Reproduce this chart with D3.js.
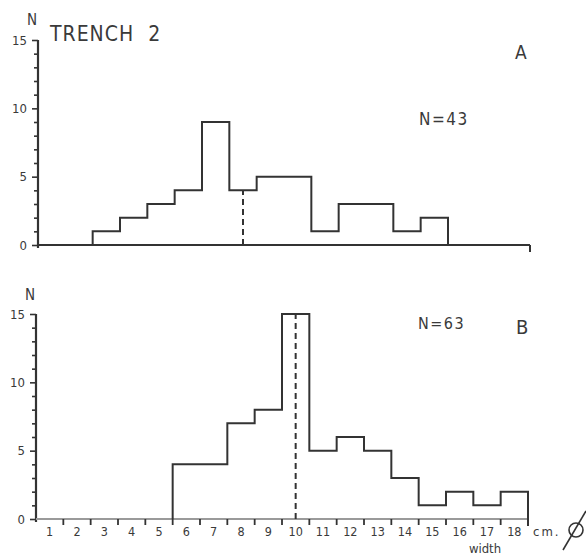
<!DOCTYPE html>
<html>
<head>
<meta charset="utf-8">
<script src="https://cdn.jsdelivr.net/npm/d3@7"></script>
<style>
  body { margin: 0; background: #fff; }
  text { font-family: "DejaVu Sans Condensed", "Liberation Sans Narrow", sans-serif; fill: #3a3a3a; }
</style>
</head>
<body>
<div id="chart"></div>
<script>
// width classes in cm (1..18)
var bins = d3.range(1, 19);
// counts per class
var countsA = [0, 0, 1, 2, 3, 4, 9, 4, 5, 5, 1, 3, 3, 1, 2, 0, 0, 0];
var countsB = [0, 0, 0, 0, 0, 4, 4, 7, 8, 15, 5, 6, 5, 3, 1, 2, 1, 2];
var yTicks = [0, 5, 10, 15];
var medianA = 8, medianB = 10;
var totalA = d3.sum(countsA), totalB = d3.sum(countsB);

var W = 586, H = 556;
var ink = "#333";

var svg = d3.select("#chart").append("svg")
    .attr("width", W)
    .attr("height", H);

// build the outline of a histogram as a step path
function stepPoints(counts) {
    var first = counts.findIndex(function(c) { return c > 0; });
    var last = counts.length - 1 - counts.slice().reverse().findIndex(function(c) { return c > 0; });
    var pts = [[first, 0]];
    for (var i = first; i <= last; i++) {
        pts.push([i, counts[i]]);
        pts.push([i + 1, counts[i]]);
    }
    pts.push([last + 1, 0]);
    return pts;
}

function panel(counts, median, x, y, opts) {
    var g = svg.append("g");

    // y axis with minor ticks on every unit
    var yAxis = d3.axisLeft(y)
        .tickValues(d3.range(0, 16))
        .tickSize(4)
        .tickFormat(function(d) { return yTicks.indexOf(d) >= 0 ? d : ""; });
    var ya = g.append("g")
        .attr("transform", "translate(" + x.range()[0] + ",0)")
        .call(yAxis);
    ya.select(".domain").remove();
    ya.selectAll(".tick line").attr("stroke", ink).attr("stroke-width", 1.6);
    ya.selectAll(".tick").filter(function(d) { return yTicks.indexOf(d) >= 0; })
        .select("line").attr("x2", -6);
    ya.selectAll(".tick text")
        .attr("x", -11)
        .style("font-size", "13px")
        .style("font-family", "DejaVu Sans Condensed, sans-serif")
        .attr("fill", "#3a3a3a");
    g.append("line")
        .attr("x1", x.range()[0]).attr("x2", x.range()[0])
        .attr("y1", y(15)).attr("y2", y(0) + 3)
        .attr("stroke", ink).attr("stroke-width", 2.2);

    // x axis baseline
    g.append("line")
        .attr("x1", x(0)).attr("x2", x(18))
        .attr("y1", y(0)).attr("y2", y(0))
        .attr("stroke", opts.baseColor).attr("stroke-width", 2);
    g.append("line")
        .attr("x1", x(18)).attr("x2", x(18))
        .attr("y1", y(0)).attr("y2", y(0) + 7)
        .attr("stroke", ink).attr("stroke-width", 2);

    // histogram outline
    var line = d3.line()
        .x(function(d) { return x(d[0]); })
        .y(function(d) { return y(d[1]); });
    g.append("path")
        .attr("d", line(stepPoints(counts)))
        .attr("fill", "none")
        .attr("stroke", ink)
        .attr("stroke-width", 2);

    // median (dashed)
    var mi = median - 1;
    g.append("line")
        .attr("x1", x(mi + 0.5)).attr("x2", x(mi + 0.5))
        .attr("y1", y(0)).attr("y2", y(counts[mi]))
        .attr("stroke", ink)
        .attr("stroke-width", 2)
        .attr("stroke-dasharray", "6,4");

    // N label above the y axis
    g.append("text")
        .attr("x", x.range()[0] - 6).attr("y", y(15) - opts.nGap)
        .attr("text-anchor", "middle")
        .style("font-size", "15px")
        .text("N");

    return g;
}

var xA = d3.scaleLinear().domain([0, 18]).range([38, 530]);
var yA = d3.scaleLinear().domain([0, 15]).range([245, 40]);
var xB = d3.scaleLinear().domain([0, 18]).range([36, 528]);
var yB = d3.scaleLinear().domain([0, 15]).range([519, 314]);

var gA = panel(countsA, medianA, xA, yA, {baseColor: ink, nGap: 15});
var gB = panel(countsB, medianB, xB, yB, {baseColor: "#9a9a9a", nGap: 14});

// bottom x axis: ticks at class boundaries, labels at class centres
var xAxisB = gB.append("g").attr("transform", "translate(0," + yB(0) + ")");
xAxisB.selectAll("line.tk")
    .data(d3.range(1, 18))
    .enter().append("line")
    .attr("class", "tk")
    .attr("x1", function(d) { return xB(d); })
    .attr("x2", function(d) { return xB(d); })
    .attr("y1", 0).attr("y2", 6)
    .attr("stroke", ink).attr("stroke-width", 1.8);
xAxisB.selectAll("text.lb")
    .data(bins)
    .enter().append("text")
    .attr("class", "lb")
    .attr("x", function(d) { return xB(d - 0.5); })
    .attr("y", 17)
    .attr("text-anchor", "middle")
    .style("font-size", "12.5px")
    .text(function(d) { return d; });

// titles and annotations
svg.append("text")
    .attr("x", 50).attr("y", 41)
    .style("font-size", "21px")
    .style("letter-spacing", "1px")
    .attr("xml:space", "preserve")
    .text("TRENCH  2");
svg.append("text")
    .attr("x", 515).attr("y", 59)
    .style("font-size", "19px")
    .text("A");
svg.append("text")
    .attr("x", 419).attr("y", 125)
    .style("font-size", "17px")
    .style("letter-spacing", "1.5px")
    .text("N=" + totalA);
svg.append("text")
    .attr("x", 418).attr("y", 329)
    .style("font-size", "16px")
    .style("letter-spacing", "1.5px")
    .text("N=" + totalB);
svg.append("text")
    .attr("x", 516).attr("y", 334)
    .style("font-size", "20px")
    .text("B");

svg.append("text")
    .attr("x", 533).attr("y", 536)
    .style("font-size", "13px")
    .style("letter-spacing", "2px")
    .text("cm.");
svg.append("text")
    .attr("x", 485).attr("y", 553)
    .attr("text-anchor", "middle")
    .style("font-size", "13px")
    .text("width");

// diameter sign
svg.append("circle")
    .attr("cx", 576).attr("cy", 530).attr("r", 7)
    .attr("fill", "none").attr("stroke", ink).attr("stroke-width", 1.6);
svg.append("line")
    .attr("x1", 563).attr("y1", 550).attr("x2", 586).attr("y2", 511)
    .attr("stroke", ink).attr("stroke-width", 1.6);
</script>
</body>
</html>
